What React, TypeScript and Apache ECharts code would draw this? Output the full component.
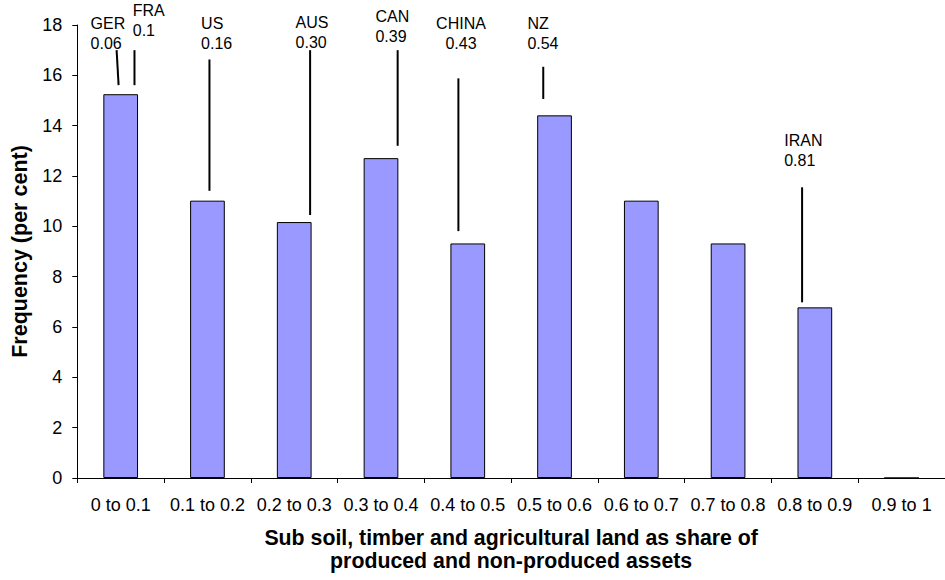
import React, { useEffect, useRef } from "react";
import * as echarts from "echarts";

const categories = [
  "0 to 0.1",
  "0.1 to 0.2",
  "0.2 to 0.3",
  "0.3 to 0.4",
  "0.4 to 0.5",
  "0.5 to 0.6",
  "0.6 to 0.7",
  "0.7 to 0.8",
  "0.8 to 0.9",
  "0.9 to 1",
];
const frequencies = [15.25, 11.02, 10.17, 12.71, 9.32, 14.41, 11.02, 9.32, 6.78, 0];

const yMin = 0;
const yMax = 18;
const yInterval = 2;

// Annotations: positions expressed in category-band units (0..10) and frequency units
const annNames = ["GER", "FRA", "US", "AUS", "CAN", "CHINA", "NZ", "IRAN"];
const annShares = ["0.06", "0.1", "0.16", "0.30", "0.39", "0.43", "0.54", "0.81"];
const annLineXTop = [0.453, 0.659, 1.523, 2.683, 3.692, 4.392, 5.37, 8.353];
const annLineXBottom = [0.476, 0.659, 1.523, 2.683, 3.692, 4.392, 5.37, 8.353];
const annLineTop = [17.0, 17.0, 16.63, 17.0, 17.0, 15.88, 16.34, 11.55];
const annLineBottom = [15.61, 15.61, 11.41, 10.45, 13.2, 9.81, 15.06, 6.98];
const annLabelX = [0.153, 0.639, 1.427, 2.516, 3.436, 4.422, 5.187, 8.147];
const annLabelY = [17.66, 18.19, 17.67, 17.69, 17.93, 17.67, 17.67, 13.03];
const annAlign = ["left", "left", "left", "left", "left", "center", "left", "left"];

const FONT = "'Liberation Sans', Arial, Helvetica, sans-serif";

export default function App() {
  const ref = useRef<HTMLDivElement>(null);

  useEffect(() => {
    document.body.style.margin = "0";
    const chart = echarts.init(ref.current as HTMLDivElement, null, { renderer: "svg" });

    const option: any = {
      animation: false,
      backgroundColor: "#ffffff",
      textStyle: { fontFamily: FONT },
      grid: { left: 77.3, top: 25, width: 876, height: 453, containLabel: false },
      xAxis: [
        {
          type: "category",
          data: categories,
          position: "bottom",
          boundaryGap: true,
          axisLine: { show: true, lineStyle: { color: "#000", width: 1 } },
          axisTick: { show: true, inside: false, length: 5, alignWithLabel: false, lineStyle: { color: "#000" } },
          axisLabel: { interval: 0, color: "#000", fontSize: 18, fontFamily: FONT, margin: 18 },
          splitLine: { show: false },
          name: "Sub soil, timber and agricultural land as share of\nproduced and non-produced assets",
          nameLocation: "middle",
          nameGap: 48,
          nameTextStyle: {
            color: "#000",
            fontSize: 21.3,
            fontWeight: "bold",
            fontFamily: FONT,
            lineHeight: 23,
          },
        },
        {
          type: "value",
          min: 0,
          max: categories.length,
          position: "top",
          show: false,
        },
      ],
      yAxis: {
        type: "value",
        min: yMin,
        max: yMax,
        interval: yInterval,
        axisLine: { show: true, lineStyle: { color: "#000", width: 1 } },
        axisTick: { show: true, inside: false, length: 5, lineStyle: { color: "#000" } },
        axisLabel: { color: "#000", fontSize: 18, fontFamily: FONT, margin: 15 },
        splitLine: { show: false },
        name: "Frequency (per cent)",
        nameLocation: "middle",
        nameGap: 44,
        nameTextStyle: { color: "#000", fontSize: 21.5, fontWeight: "bold", fontFamily: FONT },
      },
      series: [
        {
          type: "bar",
          xAxisIndex: 0,
          yAxisIndex: 0,
          data: frequencies,
          barWidth: "40%",
          itemStyle: { color: "#9999FF", borderColor: "#000", borderWidth: 1 },
          silent: true,
        },
        {
          type: "custom",
          xAxisIndex: 1,
          yAxisIndex: 0,
          clip: false,
          silent: true,
          data: annNames.map((_, i) => [i]),
          renderItem: (params: any, api: any) => {
            const i = api.value(0);
            const pTop = api.coord([annLineXTop[i], annLineTop[i]]);
            const pBot = api.coord([annLineXBottom[i], annLineBottom[i]]);
            const pLab = api.coord([annLabelX[i], annLabelY[i]]);
            return {
              type: "group",
              children: [
                {
                  type: "line",
                  shape: { x1: pTop[0], y1: pTop[1], x2: pBot[0], y2: pBot[1] },
                  style: { stroke: "#000", lineWidth: 2 },
                },
                {
                  type: "text",
                  style: {
                    text: annNames[i] + "\n" + annShares[i],
                    x: pLab[0],
                    y: pLab[1],
                    fill: "#000",
                    fontSize: 16,
                    fontFamily: FONT,
                    lineHeight: 20,
                    align: annAlign[i],
                    verticalAlign: "middle",
                  },
                },
              ],
            };
          },
        },
      ],
    };

    chart.setOption(option);
    return () => chart.dispose();
  }, []);

  return <div ref={ref} style={{ width: 945, height: 580 }} />;
}
